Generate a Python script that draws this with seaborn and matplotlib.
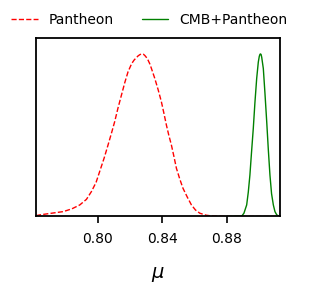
import matplotlib
matplotlib.use("Agg")
import matplotlib.pyplot as plt
import seaborn as sns
import pandas as pd

pantheon_mu = [0.7618, 0.7643, 0.7700, 0.7787, 0.7840, 0.7889, 0.7930, 0.7961, 0.7990, 0.8012,
               0.8040, 0.8064, 0.8085, 0.8105, 0.8125, 0.8147, 0.8168, 0.8188, 0.8210,
               0.8225, 0.8239, 0.8250, 0.8260, 0.8268, 0.8275, 0.8283, 0.8292, 0.8301,
               0.8311, 0.8322, 0.8332, 0.8353, 0.8374, 0.8394,
               0.8410, 0.8425, 0.8440, 0.8456, 0.8472, 0.8487, 0.8508, 0.8528, 0.8555,
               0.8580, 0.8605, 0.8632, 0.8670, 0.8714, 0.8800, 0.8900, 0.9128]
pantheon_p = [0.005, 0.010, 0.018, 0.030, 0.047, 0.071, 0.105, 0.153, 0.210, 0.276,
              0.360, 0.440, 0.512, 0.583, 0.665, 0.747, 0.825, 0.891, 0.940,
              0.962, 0.977, 0.988, 0.995, 0.999, 1.000, 0.998, 0.990, 0.979,
              0.963, 0.940, 0.912, 0.850, 0.780, 0.706,
              0.634, 0.563, 0.500, 0.440, 0.368, 0.297, 0.230, 0.173, 0.118,
              0.071, 0.040, 0.020, 0.008, 0.002, 0.000, 0.000, 0.000]

cmb_mu = [0.8800, 0.8891, 0.8905, 0.8922, 0.8932, 0.8942, 0.8952, 0.8963, 0.8973, 0.8984,
          0.8994, 0.9000, 0.9004, 0.9007, 0.9011, 0.9015, 0.9025, 0.9035, 0.9046, 0.9056, 0.9066,
          0.9076, 0.9087, 0.9097, 0.9108, 0.9124]
cmb_p = [0.000, 0.002, 0.020, 0.071, 0.150, 0.255, 0.395, 0.543, 0.700, 0.850,
         0.950, 0.985, 0.997, 1.000, 0.997, 0.980, 0.910, 0.760, 0.583, 0.410, 0.255,
         0.140, 0.071, 0.030, 0.010, 0.000]

labels = ["Pantheon", "CMB+Pantheon"]
xticks = [0.80, 0.84, 0.88]
xticklabels = ["0.80", "0.84", "0.88"]

sns.set_style("ticks")
plt.rcParams['font.family'] = ['DejaVu Sans']
plt.rcParams['text.color'] = 'black'
plt.rcParams['axes.labelcolor'] = 'black'
plt.rcParams['xtick.color'] = 'black'
plt.rcParams['ytick.color'] = 'black'

fig = plt.figure(figsize=(3.14, 2.99), dpi=100)
ax = fig.add_axes([0.1146, 0.276, 0.777, 0.598])

df1 = pd.DataFrame({"mu": pantheon_mu, "p": pantheon_p})
df2 = pd.DataFrame({"mu": cmb_mu, "p": cmb_p})
sns.lineplot(data=df1, x="mu", y="p", ax=ax, color="red", linestyle="--", lw=1.0, label=labels[0])
sns.lineplot(data=df2, x="mu", y="p", ax=ax, color="green", linestyle="-", lw=1.0, label=labels[1])

ax.set_xlim(0.7618, 0.9128)
ax.set_ylim(0, 1.1)
ax.set_yticks([])
ax.set_xticks(xticks)
ax.set_xticklabels(xticklabels, fontsize=10, color="black")
ax.tick_params(axis="x", direction="out", length=5, width=1.2, color="black", pad=6)
ax.set_xlabel(r"$\mu$", fontsize=14, labelpad=14, color="black")
ax.set_ylabel("")
for s in ax.spines.values():
    s.set_visible(True)
    s.set_color("black")
    s.set_linewidth(1.3)

h, l = ax.get_legend_handles_labels()
ax.get_legend().remove()
leg = fig.legend(h, l, loc="upper center", bbox_to_anchor=(0.475, 1.0), ncol=2, frameon=False,
                 fontsize=10, handlelength=1.9, columnspacing=2.0)
for t in leg.get_texts():
    t.set_color("black")

fig.savefig("out.png", dpi=100)
